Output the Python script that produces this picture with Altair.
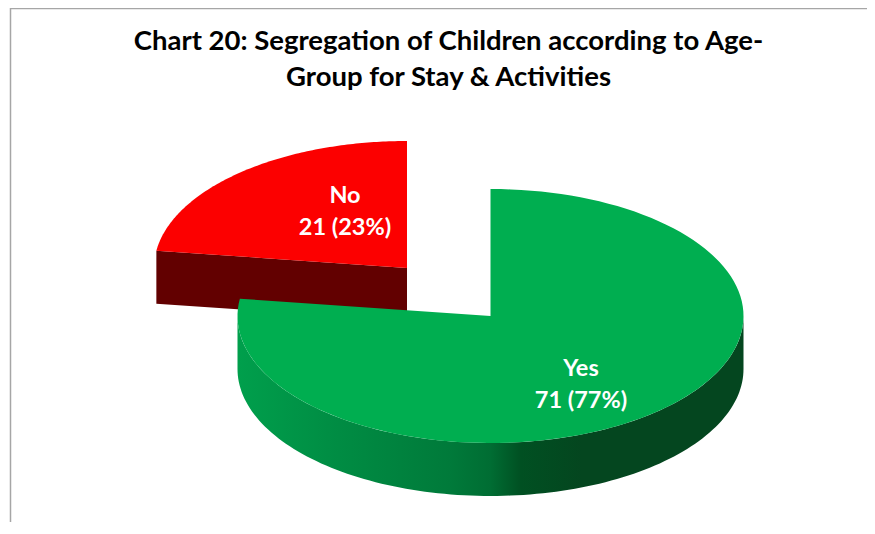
import math
import altair as alt
import pandas as pd

categories = ["Yes", "No"]
counts = [71, 21]
percents = [77, 23]
title_lines = ["Chart 20: Segregation of Children according to Age-", "Group for Stay & Activities"]

W, H = 859, 514
X0, Y0 = 8, 8
RX, RY, DEPTH = 253, 127, 53
YES_C = (490.5, 316)
NO_C = (407, 268)
total = sum(counts)
cut = 360 * counts[0] / total

xs = alt.Scale(domain=[X0, X0 + W], range=[0, W], nice=False, zero=False)
ys = alt.Scale(domain=[Y0, Y0 + H], range=[0, H], nice=False, zero=False)


def pt(c, a, dy=0):
    r = math.radians(a)
    return (c[0] + RX * math.sin(r), c[1] - RY * math.cos(r) + dy)


def arc(c, a0, a1, dy=0, n=120):
    return [pt(c, a0 + (a1 - a0) * i / n, dy) for i in range(n + 1)]


def poly(points, fill):
    df = pd.DataFrame(points, columns=["px", "py"]).reset_index(names="i")
    return alt.Chart(df).mark_line(fill=fill, strokeWidth=0, interpolate="linear", clip=False).encode(
        x=alt.X("px:Q", scale=xs, axis=None),
        y=alt.Y("py:Q", scale=ys, axis=None),
        order="i:Q",
    )


side_yes = alt.Gradient(
    gradient="linear", x1=0, x2=1, y1=0, y2=0,
    stops=[
        alt.GradientStop(color="#009F4C", offset=0),
        alt.GradientStop(color="#008C43", offset=0.2),
        alt.GradientStop(color="#007A3A", offset=0.42),
        alt.GradientStop(color="#006D33", offset=0.5),
        alt.GradientStop(color="#005022", offset=0.56),
        alt.GradientStop(color="#04461F", offset=0.68),
        alt.GradientStop(color="#04461F", offset=1),
    ],
)

no_wall = poly([pt(NO_C, cut), NO_C, (NO_C[0], NO_C[1] + DEPTH), pt(NO_C, cut, DEPTH)], "#620000")
no_top = poly([NO_C] + arc(NO_C, cut, 360), "#FC0000")
yes_wall = poly(arc(YES_C, 90, 270) + arc(YES_C, 270, 90, DEPTH), side_yes)
yes_top = poly([YES_C] + arc(YES_C, 0, cut), "#00AE50")

frame_v = alt.Chart(pd.DataFrame({"x": [10.5], "y": [Y0], "y2": [Y0 + H]})).mark_rule(
    color="#A6A6A6", strokeWidth=1.5
).encode(x=alt.X("x:Q", scale=xs, axis=None), y=alt.Y("y:Q", scale=ys, axis=None), y2="y2:Q")
frame_h = alt.Chart(pd.DataFrame({"x": [10], "x2": [X0 + W], "y": [8.5]})).mark_rule(
    color="#A6A6A6", strokeWidth=1.5
).encode(x=alt.X("x:Q", scale=xs, axis=None), x2="x2:Q", y=alt.Y("y:Q", scale=ys, axis=None))

labels = pd.DataFrame({
    "text": [f"{c}\n{v} ({p}%)" for c, v, p in zip(categories, counts, percents)],
    "lx": [581, 345],
    "ly": [369, 195.5],
})
label_layer = alt.Chart(labels).mark_text(
    font="Lato", fontSize=23.5, fontWeight="bold", color="white", lineBreak="\n",
    lineHeight=32, align="center", baseline="middle",
).encode(
    x=alt.X("lx:Q", scale=xs, axis=None),
    y=alt.Y("ly:Q", scale=ys, axis=None),
    text="text:N",
)

chart = alt.layer(frame_v, frame_h, no_wall, no_top, yes_wall, yes_top, label_layer).properties(
    width=W, height=H,
    autosize=alt.AutoSizeParams(type="none"),
    padding=0,
    background="white",
    title=alt.TitleParams(
        text=title_lines, font="Lato", fontSize=27.5, fontWeight="bold", color="black",
        anchor="middle", frame="group", offset=-84, dx=11, lineHeight=36,
    ),
).configure_view(stroke=None)

chart.save("out.html", embed_options={"renderer": "svg", "actions": False})
